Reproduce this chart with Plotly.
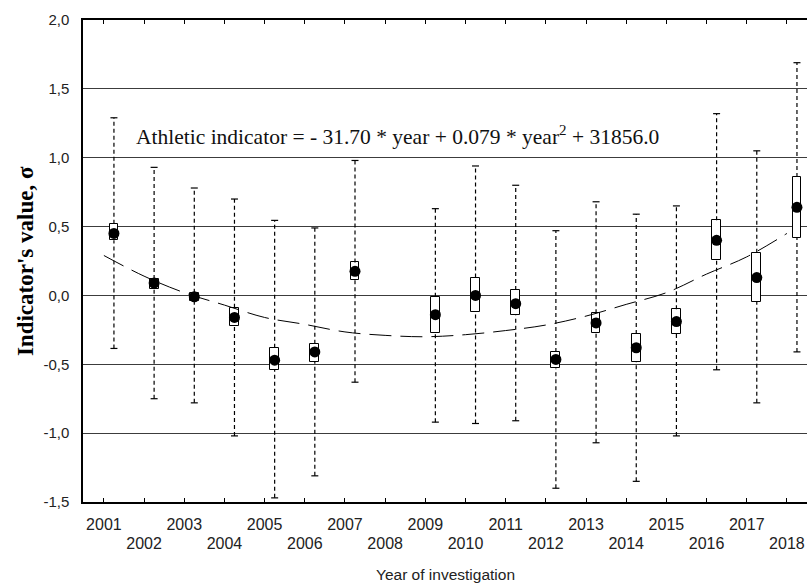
import plotly.graph_objects as go

# ---- data ----
years = [2001, 2002, 2003, 2004, 2005, 2006, 2007, 2009, 2010, 2011, 2012,
         2013, 2014, 2015, 2016, 2017, 2018]
mean_vals = [0.45, 0.09, -0.01, -0.16, -0.47, -0.41, 0.175, -0.14, 0.0, -0.06,
             -0.465, -0.20, -0.38, -0.19, 0.40, 0.13, 0.64]
box_low = [0.40, 0.05, -0.04, -0.22, -0.54, -0.48, 0.11, -0.27, -0.12, -0.145,
           -0.53, -0.27, -0.48, -0.28, 0.255, -0.045, 0.42]
box_high = [0.52, 0.12, 0.02, -0.09, -0.38, -0.35, 0.24, -0.01, 0.13, 0.04,
            -0.41, -0.13, -0.28, -0.10, 0.545, 0.31, 0.86]
whisk_low = [-0.385, -0.75, -0.78, -1.02, -1.47, -1.31, -0.63, -0.92, -0.93,
             -0.91, -1.40, -1.07, -1.35, -1.02, -0.54, -0.78, -0.41]
whisk_high = [1.29, 0.93, 0.78, 0.70, 0.545, 0.49, 0.98, 0.63, 0.94, 0.80,
              0.47, 0.68, 0.59, 0.65, 1.32, 1.05, 1.69]

trend_years = list(range(2001, 2019))
trend_vals = [0.29, 0.14, 0.02, -0.07, -0.16, -0.21, -0.265, -0.29, -0.30,
              -0.285, -0.255, -0.215, -0.15, -0.065, 0.02, 0.155, 0.28, 0.45]

tick_years = list(range(2001, 2019))
y_ticks = [-1.5, -1.0, -0.5, 0.0, 0.5, 1.0, 1.5, 2.0]
y_ticktext = ["-1,5", "-1,0", "-0,5", "0,0", "0,5", "1,0", "1,5", "2,0"]

equation = ("Athletic indicator = - 31.70 * year + 0.079 * year<sup>2</sup>"
            " + 31856.0")
x_title = "Year of investigation"
y_title = "Indicator's value, σ"

# ---- presentation ----
OFFSET = 0.25  # markers sit slightly right of the year tick
xs = [y + OFFSET for y in years]
SANS = "Liberation Sans, Arial, sans-serif"
SERIF = "Liberation Serif, Times New Roman, serif"

fig = go.Figure()

# trend line
fig.add_trace(go.Scatter(
    x=trend_years, y=trend_vals, mode="lines",
    line=dict(color="black", width=1, dash="22px,9px", shape="spline"),
    hoverinfo="skip", showlegend=False))

# whiskers (dashed), drawn outside the boxes
wx, wy = [], []
for x, wl, bl, bh, wh in zip(xs, whisk_low, box_low, box_high, whisk_high):
    wx += [x, x, None, x, x, None]
    wy += [wl, bl, None, bh, wh, None]
fig.add_trace(go.Scatter(
    x=wx, y=wy, mode="lines",
    line=dict(color="black", width=1.2, dash="4px,3px"),
    hoverinfo="skip", showlegend=False))

# whisker caps
fig.add_trace(go.Scatter(
    x=xs + xs, y=whisk_low + whisk_high, mode="markers",
    marker=dict(symbol="line-ew", size=5, line=dict(color="black", width=1.2)),
    hoverinfo="skip", showlegend=False))

# boxes
fig.add_trace(go.Bar(
    x=xs, base=box_low, y=[h - l for h, l in zip(box_high, box_low)],
    width=0.22, marker=dict(color="white", line=dict(color="black", width=1)),
    hoverinfo="skip", showlegend=False))

# means
fig.add_trace(go.Scatter(
    x=xs, y=mean_vals, mode="markers",
    marker=dict(symbol="circle", size=11, color="black"),
    showlegend=False))

odd = [y for y in tick_years if y % 2 == 1]
even = [y for y in tick_years if y % 2 == 0]

fig.update_layout(
    width=807, height=583,
    margin=dict(l=83, r=0, t=20, b=81, autoexpand=False),
    paper_bgcolor="white", plot_bgcolor="white",
    font=dict(family=SANS, size=15, color="#222"),
    bargap=0,
    xaxis=dict(
        range=[2000.48, 2018.5], tickvals=odd, ticktext=[str(y) for y in odd],
        ticks="inside", ticklen=4, tickcolor="black", showline=True,
        linecolor="black", linewidth=1.5, mirror="ticks", showgrid=False,
        zeroline=False, ticklabelstandoff=7, automargin=False,
        tickfont=dict(size=16, family=SANS, color="#222"),
    ),
    xaxis2=dict(
        overlaying="x", matches="x", side="bottom",
        tickvals=even, ticktext=[str(y) for y in even],
        ticks="inside", ticklen=4, tickcolor="black", showline=False,
        mirror="ticks", showgrid=False, zeroline=False, ticklabelstandoff=30,
        automargin=False,
        tickfont=dict(size=16, family=SANS, color="#222"),
    ),
    yaxis=dict(
        range=[-1.5, 2.0], tickvals=y_ticks, ticktext=y_ticktext,
        ticks="", showline=True, linecolor="black", linewidth=1.5,
        showgrid=True, gridcolor="#3c3c3c", gridwidth=1.3, zeroline=False,
        ticklabelstandoff=9, automargin=False,
        tickfont=dict(size=15, family=SANS, color="#222"),
    ),
    annotations=[
        dict(x=2001.76, y=1.16, xref="x", yref="y", xanchor="left",
             yanchor="middle", text=equation, showarrow=False,
             font=dict(family=SERIF, size=21.5, color="#111")),
        dict(x=-0.080, y=0.5, xref="paper", yref="paper", xanchor="center",
             yanchor="middle", text=y_title, textangle=-90, showarrow=False,
             font=dict(family=SERIF, size=23, color="black", weight="bold")),
        dict(x=0.5, y=-0.151, xref="paper", yref="paper", xanchor="center",
             yanchor="middle", text=x_title, showarrow=False,
             font=dict(family=SANS, size=15.5, color="#222")),
    ],
)

# dummy trace to activate xaxis2
fig.add_trace(go.Scatter(x=[2001], y=[None], xaxis="x2", mode="markers",
                         showlegend=False, hoverinfo="skip"))

fig.write_html(
    "out.html",
    config={"displayModeBar": False},
    post_script="document.body.style.margin='0';"
                "document.body.style.overflow='hidden';",
)
